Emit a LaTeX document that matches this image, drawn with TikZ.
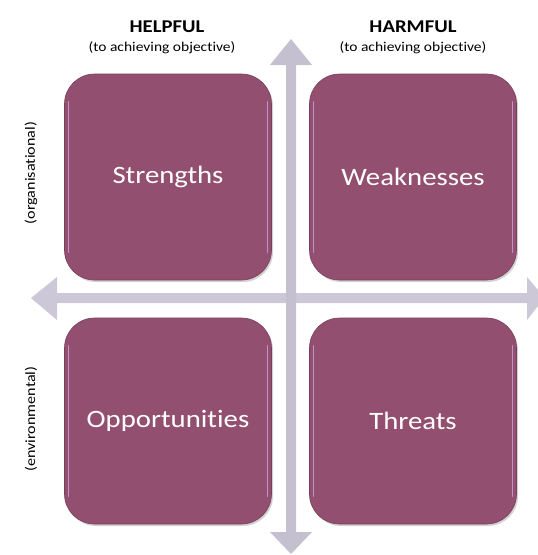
\documentclass[tikz,border=0pt]{standalone}
\usepackage{fontspec}
\setmainfont{Carlito}[FakeStretch=1.15,Ligatures=NoCommon]
\usetikzlibrary{shadows}
\definecolor{boxfill}{HTML}{934F6F}
\definecolor{boxedge}{HTML}{7A3E5B}
\definecolor{axiscol}{HTML}{CCC8D8}
\definecolor{axiscolv}{HTML}{C4C0D0}
\definecolor{shine}{HTML}{C9A6E0}
\begin{document}
\begin{tikzpicture}[x=1pt,y=-1pt,
  quad/.style={draw=boxedge,line width=0.6pt,fill=boxfill,rounded corners=30pt,
    minimum width=207pt,minimum height=206pt,inner sep=0pt,text=white,
    font=\fontsize{25}{30}\selectfont,
    drop shadow={shadow xshift=1.5pt,shadow yshift=-2pt,fill=black!35,opacity=0.5}},
  hl/.style={draw=shine,line width=1pt,opacity=0.8,line cap=round},
  head/.style={font=\bfseries\fontsize{18}{20}\selectfont},
  sub/.style={font=\fontsize{13.5}{15}\selectfont},
  side/.style={font=\fontsize{14}{16}\selectfont,rotate=90}]
\useasboundingbox (0,0) rectangle (538,555);
% axes
\fill[axiscol] (31,298) -- (57,277) -- (57,293) -- (527,293) -- (527,277) -- (538,290) -- (538,306) -- (527,320) -- (527,303) -- (57,303) -- (57,320) -- cycle;
\fill[axiscolv] (291,39) -- (312,65) -- (296,65) -- (296,532) -- (312,532) -- (291,554) -- (270,532) -- (286,532) -- (286,65) -- (270,65) -- cycle;
% quadrants
\node[quad] (s) at (168,177) {Strengths};
\node[quad] (w) at (413,177) {Weaknesses};
\node[quad] (o) at (168,421) {Opportunities};
\node[quad] (t) at (413,421) {Threats};
% highlights along the side edges
\foreach \b in {s,w,o,t}{
  \draw[hl] ([xshift=4pt,yshift=-28pt]\b.north west) -- ([xshift=4pt,yshift=28pt]\b.south west);
  \draw[hl] ([xshift=-4pt,yshift=-28pt]\b.north east) -- ([xshift=-4pt,yshift=28pt]\b.south east);
}
% headings
\node[head] (h1) at (167,27) {HELPFUL};
\node[sub] (h1s) at (162,48) {(to achieving objective)};
\node[head] (h2) at (413,27) {HARMFUL};
\node[sub] (h2s) at (413,48) {(to achieving objective)};
\node[side] (l1) at (31,173) {(organisational)};
\node[side] (l2) at (31,419) {(environmental)};
\end{tikzpicture}
\end{document}
